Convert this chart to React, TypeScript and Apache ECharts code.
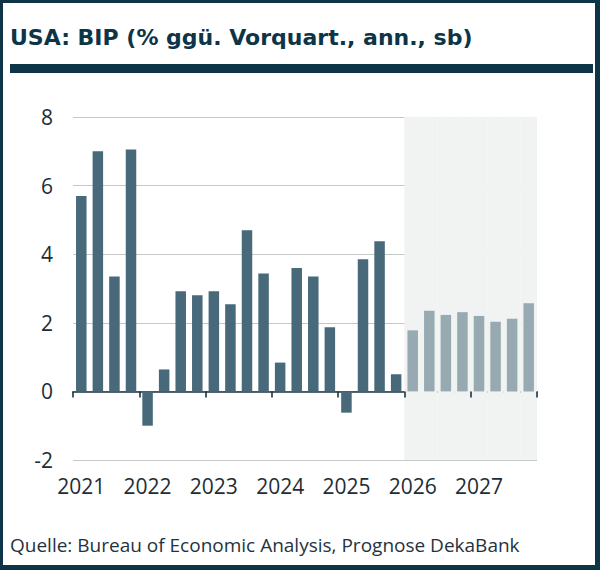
import React, { useEffect, useRef } from "react";
import * as echarts from "echarts";

const years = ["2021", "2022", "2023", "2024", "2025", "2026", "2027"];
const quarters = ["Q1", "Q2", "Q3", "Q4"];
const categories = years.flatMap((y) => quarters.map((q) => `${y} ${q}`));

// Actual values 2021 Q1 – 2025 Q4
const actualValues = [
  5.7, 7.0, 3.35, 7.05,
  -1.0, 0.64, 2.92, 2.8,
  2.92, 2.54, 4.7, 3.44,
  0.84, 3.6, 3.35, 1.87,
  -0.62, 3.85, 4.38, 0.5,
];
// Forecast values 2026 Q1 – 2027 Q4
const forecastValues = [1.78, 2.35, 2.23, 2.31, 2.2, 2.03, 2.12, 2.57];

const yTicks = [-2, 0, 2, 4, 6, 8];

const titleText = "USA: BIP (% ggü. Vorquart., ann., sb)";
const sourceText = "Quelle: Bureau of Economic Analysis, Prognose DekaBank";

const DARK = "#0d3447";
const FONT = "'Open Sans', 'Noto Sans', sans-serif";

export default function App() {
  const ref = useRef<HTMLDivElement>(null);
  useEffect(() => {
    document.body.style.margin = "0";
    if (!ref.current) return;
    const chart = echarts.init(ref.current, null, { renderer: "svg" });
    const nA = actualValues.length;
    const actualSeries = categories.map((_, i) => (i < nA ? actualValues[i] : "-"));
    const forecastSeries = categories.map((_, i) => (i >= nA ? forecastValues[i - nA] : "-"));
    const shadeSeries = categories.map((_, i) => (i >= nA ? 1 : "-"));

    chart.setOption({
      animation: false,
      backgroundColor: "#ffffff",
      textStyle: { fontFamily: FONT },
      grid: { left: 73, right: 63, top: 117, bottom: 110, containLabel: false },
      graphic: [
        { type: "rect", shape: { x: 0, y: 0, width: 600, height: 3 }, style: { fill: DARK }, silent: true },
        { type: "rect", shape: { x: 0, y: 565, width: 600, height: 5 }, style: { fill: DARK }, silent: true },
        { type: "rect", shape: { x: 0, y: 0, width: 3, height: 570 }, style: { fill: DARK }, silent: true },
        { type: "rect", shape: { x: 595, y: 0, width: 5, height: 570 }, style: { fill: DARK }, silent: true },
        { type: "rect", shape: { x: 10, y: 64, width: 583, height: 9 }, style: { fill: DARK }, silent: true },
        {
          type: "text",
          left: 10,
          top: 26,
          style: { text: titleText, fill: DARK, font: `bold 22px 'DejaVu Sans', sans-serif` },
        },
        {
          type: "text",
          left: 10,
          top: 535,
          style: { text: sourceText, fill: "#1f3340", font: `19px ${FONT}` },
        },
      ],
      xAxis: [
        {
          type: "category",
          data: categories,
          boundaryGap: true,
          axisLine: { onZero: true, lineStyle: { color: "#1b3442", width: 1.6 } },
          axisTick: { show: true, interval: 3, length: 6, lineStyle: { color: "#1b3442", width: 1.6 } },
          axisLabel: {
            interval: 3,
            formatter: (v: string) => v.split(" ")[0],
            color: "#1e2d36",
            fontSize: 21,
            fontFamily: FONT,
            margin: 15,
          },
          splitLine: { show: false },
        },
        {
          type: "category",
          data: categories,
          show: false,
          boundaryGap: true,
        },
      ],
      yAxis: [
        {
          type: "value",
          min: -2,
          max: 8,
          interval: 2,
          axisLine: { show: false },
          axisTick: { show: false },
          axisLabel: {
            color: "#1e2d36",
            fontSize: 21,
            fontFamily: FONT,
            margin: 20,
            formatter: (v: number) => (yTicks.includes(v) ? String(v) : ""),
          },
          splitLine: { show: true, lineStyle: { color: "#c5c8c9", width: 1.2 } },
        },
        { type: "value", min: 0, max: 1, show: false },
      ],
      series: [
        {
          name: "shade",
          type: "bar",
          xAxisIndex: 1,
          yAxisIndex: 1,
          data: shadeSeries,
          barWidth: "100%",
          barCategoryGap: "0%",
          itemStyle: { color: "#f1f2f2" },
          z: 0,
          silent: true,
        },
        {
          name: "Ist",
          type: "bar",
          data: actualSeries,
          barWidth: 10.5,
          barGap: "-100%",
          itemStyle: { color: "#47697a" },
          z: 3,
        },
        {
          name: "Prognose",
          type: "bar",
          data: forecastSeries,
          barWidth: 10.5,
          barGap: "-100%",
          itemStyle: { color: "#97aab2" },
          z: 3,
        },
      ],
    });
    return () => chart.dispose();
  }, []);
  return <div ref={ref} style={{ width: 600, height: 570 }} />;
}
